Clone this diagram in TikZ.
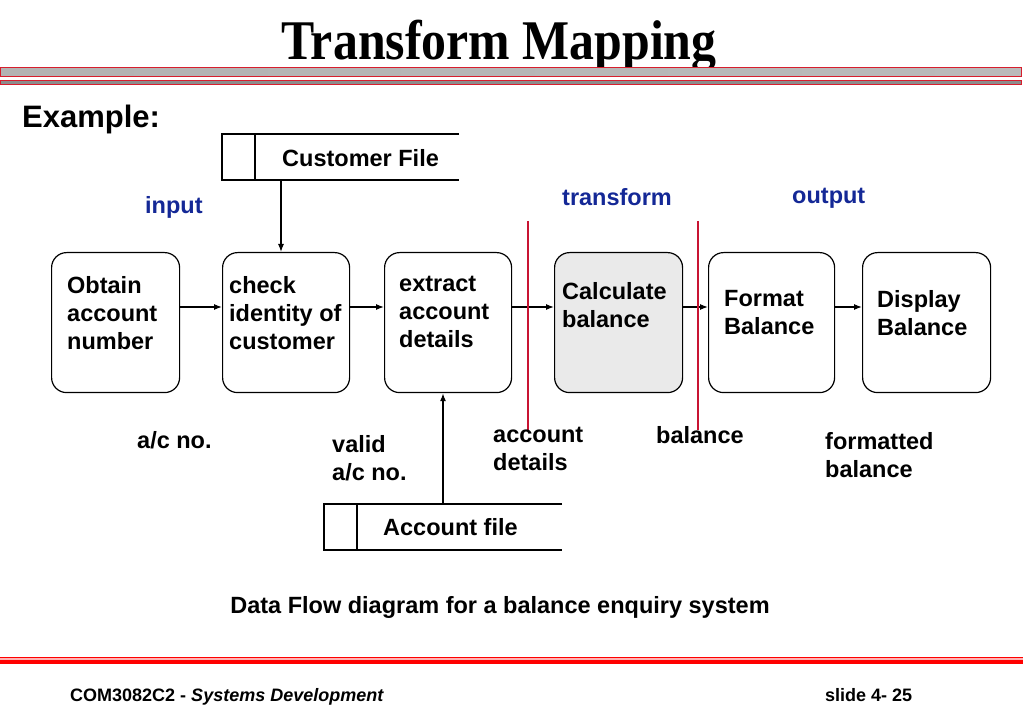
\documentclass[tikz,border=0pt]{standalone}
\usepackage{graphicx}
\usepackage{fontspec}
\setmainfont{Liberation Sans}
\newfontfamily\titlefont{Liberation Serif}
\usetikzlibrary{arrows.meta}
\definecolor{lblblue}{RGB}{20,40,150}
\definecolor{boxgray}{RGB}{234,234,234}
\definecolor{barred}{RGB}{215,30,45}
\definecolor{divred}{RGB}{200,20,50}
\begin{document}
\begin{tikzpicture}[x=1pt,y=-1pt,
  proc/.style={draw=black, line width=1.2pt, rounded corners=15pt, anchor=north west, inner sep=0pt},
  txt/.style={font=\fontsize{23.5}{28}\selectfont\bfseries, inner sep=0pt, align=left, anchor=north west},
  lbl/.style={txt, text=lblblue},
  flow/.style={line width=1.2pt, -{Latex[length=8pt,width=6pt]}},
  divider/.style={draw=divred, line width=1.1pt},
  store/.style={line width=1.2pt},
]
\useasboundingbox (0,0) rectangle (1023,708);

% title
\node[anchor=base, inner sep=0pt] (title) at (499,60)
  {\scalebox{0.89}[1]{\titlefont\fontsize{56}{60}\selectfont\bfseries Transform Mapping}};
\shade[left color=black!30, middle color=black!12, right color=black!27] (0,68) rectangle (1021,76.5);
\draw[barred, line width=1pt] (0,68) rectangle (1021,76.5);
\fill[black!45] (0,80.5) rectangle (1021,84.5);
\draw[barred, line width=1pt] (0,80.5) rectangle (1021,84.5);

\node[anchor=north west, inner sep=0pt, font=\fontsize{31}{34}\selectfont\bfseries] (ex) at (22,105) {Example:};

% labels
\node[lbl] (lin) at (145,196) {input};
\node[lbl] (ltr) at (562,188) {transform};
\node[lbl] (lout) at (792,188) {output};

% process boxes
\node[proc, minimum width=128pt, minimum height=140pt] (b1) at (51,252) {};
\node[proc, minimum width=127pt, minimum height=140pt] (b2) at (222,252) {};
\node[proc, minimum width=127pt, minimum height=140pt] (b3) at (384,252) {};
\node[proc, fill=boxgray, minimum width=128pt, minimum height=140pt] (b4) at (554,252) {};
\node[proc, minimum width=126pt, minimum height=140pt] (b5) at (708,252) {};
\node[proc, minimum width=128pt, minimum height=140pt] (b6) at (862,252) {};

\node[txt] (t1) at (67,276) {Obtain\\account\\number};
\node[txt] (t2) at (229,276) {check\\identity of\\customer};
\node[txt] (t3) at (399,276) {extract\\account\\details};
\node[txt] (t4) at (562,282) {Calculate\\balance};
\node[txt] (t5) at (724,290) {Format\\Balance};
\node[txt] (t6) at (877,290) {Display\\Balance};

% flows between boxes
\coordinate (ay) at (0,307);
\draw[flow] (b1.east |- ay) -- (b2.west |- ay);
\draw[flow] (b2.east |- ay) -- (b3.west |- ay);
\draw[flow] (b3.east |- ay) -- (b4.west |- ay);
\draw[flow] (b4.east |- ay) -- (b5.west |- ay);
\draw[flow] (b5.east |- ay) -- (b6.west |- ay);

% dividers
\coordinate (d1t) at (528,221); \coordinate (d1b) at (528,430);
\coordinate (d2t) at (698,221); \coordinate (d2b) at (698,430);
\draw[divider] (d1t) -- (d1b);
\draw[divider] (d2t) -- (d2b);

% customer file store
\draw[store] (459,134) -- (222,134) -- (222,180) -- (459,180);
\draw[store] (255,134) -- (255,180);
\node[txt] (cf) at (282,149) {Customer File};
\coordinate (cfa) at (281,180);
\draw[flow] (cfa) -- (cfa |- b2.north);

% account file store
\draw[store] (562,504) -- (324,504) -- (324,550) -- (562,550);
\draw[store] (357,504) -- (357,550);
\node[txt] (af) at (383,518) {Account file};
\coordinate (afa) at (443,504);
\draw[flow] (afa) -- (afa |- b3.south);

% data labels
\node[txt] (l1) at (137,431) {a/c no.};
\node[txt] (l2) at (332,435) {valid\\a/c no.};
\node[txt] (l3) at (493,427) {account\\details};
\node[txt] (l4) at (656,426) {balance};
\node[txt] (l5) at (825,432) {formatted\\balance};

% caption
\node[txt, anchor=north] (cap) at (500,596) {Data Flow diagram for a balance enquiry system};

% footer
\fill[red] (0,656.5) rectangle (1023,658);
\fill[red!30] (0,658) rectangle (1023,659.5);
\fill[red] (0,659.5) rectangle (1023,663.5);
\node[anchor=north west, inner sep=0pt, font=\fontsize{18}{20}\selectfont\bfseries] (foot) at (70,688) {COM3082C2 - \textit{Systems Development}};
\node[anchor=north west, inner sep=0pt, font=\fontsize{18}{20}\selectfont\bfseries] (slide) at (825,688) {slide 4- 25};
\end{tikzpicture}
\end{document}
